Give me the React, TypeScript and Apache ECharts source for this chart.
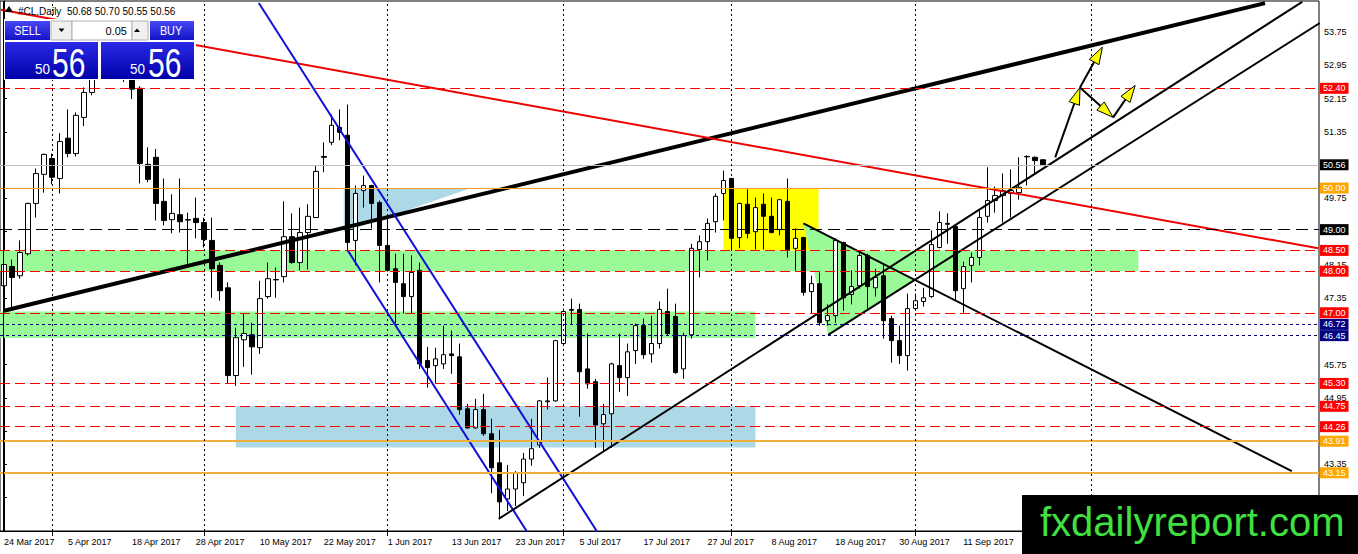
import React, { useEffect, useRef } from "react";
import * as echarts from "echarts";

const FONT = "Liberation Sans";
const MONTHS = ["Jan", "Feb", "Mar", "Apr", "May", "Jun", "Jul", "Aug", "Sep", "Oct", "Nov", "Dec"];
const HOLIDAYS = ["2017-04-14"];
const FIRST_BAR = [2017, 2, 24];
const LAST_BAR = [2017, 8, 25];
const TOTAL_SLOTS = 165;
const LABEL_STEP = 8;
const LAST_LABELLED = 120;
// price-axis tick labels that sit under a price tag in the reference
const coveredTicks = [50.55, 48.95, 46.55, 44.15];

function buildCategories(): { labels: string[]; monthStarts: number[] } {
  const labels: string[] = [];
  const monthStarts: number[] = [];
  const d = new Date(Date.UTC(FIRST_BAR[0], FIRST_BAR[1], FIRST_BAR[2]));
  const last = Date.UTC(LAST_BAR[0], LAST_BAR[1], LAST_BAR[2]);
  let prevMonth = d.getUTCMonth();
  while (labels.length < TOTAL_SLOTS) {
    const dow = d.getUTCDay();
    const iso = d.toISOString().slice(0, 10);
    const future = d.getTime() > last;
    if (future || (dow !== 0 && dow !== 6 && !HOLIDAYS.includes(iso))) {
      if (d.getUTCMonth() !== prevMonth) {
        monthStarts.push(labels.length);
        prevMonth = d.getUTCMonth();
      }
      labels.push(`${d.getUTCDate()} ${MONTHS[d.getUTCMonth()]} ${d.getUTCFullYear()}`);
    }
    d.setUTCDate(d.getUTCDate() + 1);
  }
  return { labels, monthStarts };
}

// [open, close, low, high]
const candles: number[][] = [
  [47.65, 48.16, 47.53, 48.26], [48.11, 47.85, 47.10, 48.28], [47.89, 48.45, 47.82, 48.74], [48.42, 49.63, 48.38, 49.65],
  [49.63, 50.35, 49.29, 50.47], [50.33, 50.81, 49.89, 50.83], [50.71, 50.26, 50.09, 50.83], [50.23, 51.12, 49.87, 51.32],
  [51.20, 50.83, 50.74, 51.89], [50.83, 51.75, 50.76, 51.82], [51.70, 52.30, 51.49, 52.42], [52.30, 52.79, 52.23, 53.08],
  [53.58, 53.70, 53.55, 53.76], [53.40, 53.15, 52.95, 53.76], [53.15, 53.20, 52.90, 53.45], [53.08, 52.71, 52.55, 53.30],
  [52.75, 52.38, 52.14, 52.95], [52.40, 50.59, 50.11, 52.45], [50.57, 50.21, 50.14, 50.98], [50.74, 49.63, 49.22, 50.94],
  [49.68, 49.22, 49.10, 50.23], [49.24, 49.39, 48.91, 49.85], [49.36, 49.19, 48.93, 50.23], [49.24, 49.23, 48.18, 49.41],
  [49.27, 49.17, 48.79, 49.77], [49.17, 48.76, 48.57, 49.29], [48.74, 48.06, 47.36, 49.29], [48.14, 47.53, 47.29, 48.21],
  [47.60, 45.49, 45.29, 47.73], [45.49, 46.40, 45.24, 46.64], [46.35, 46.50, 45.70, 46.98], [46.47, 46.18, 45.51, 46.76],
  [46.16, 47.34, 46.01, 47.77], [47.39, 47.82, 47.34, 48.21], [47.79, 47.80, 47.36, 48.09], [47.87, 48.83, 47.73, 49.68],
  [48.83, 48.21, 48.18, 49.39], [48.21, 48.93, 48.02, 49.53], [48.93, 49.32, 48.04, 49.61], [49.29, 50.40, 49.29, 50.55],
  [50.76, 50.74, 50.38, 51.10], [51.10, 51.51, 51.03, 51.77], [51.46, 51.34, 51.15, 51.89], [51.27, 48.69, 48.50, 52.01],
  [48.74, 49.87, 48.14, 50.06], [49.94, 50.06, 49.53, 50.30], [50.06, 49.63, 49.03, 50.08], [49.65, 48.62, 47.73, 49.70],
  [48.62, 48.02, 47.99, 49.27], [48.06, 47.73, 46.74, 48.42], [47.70, 47.39, 46.98, 48.42], [47.39, 47.97, 46.98, 48.38],
  [48.02, 45.77, 45.65, 48.21], [45.85, 45.68, 45.20, 46.18], [45.73, 45.89, 45.29, 46.16], [45.77, 45.99, 45.65, 46.69],
  [46.01, 45.97, 45.53, 46.57], [45.94, 44.67, 44.55, 46.26], [44.69, 44.23, 44.21, 44.81], [44.23, 44.67, 44.21, 44.93],
  [44.67, 44.09, 44.04, 45.05], [44.09, 43.27, 42.66, 44.45], [43.39, 42.45, 42.04, 44.18], [42.52, 42.76, 42.23, 43.34],
  [42.76, 43.15, 42.35, 43.19], [42.91, 43.48, 42.59, 43.63], [43.48, 43.73, 43.32, 44.45], [43.82, 44.88, 43.75, 44.90],
  [44.86, 44.88, 44.67, 45.44], [44.88, 46.33, 44.86, 46.35], [46.26, 47.03, 46.21, 47.10], [47.08, 47.06, 46.71, 47.34],
  [47.08, 45.58, 44.50, 47.22], [45.65, 45.29, 45.17, 46.50], [45.34, 44.30, 43.75, 45.41], [44.33, 44.55, 43.68, 44.81],
  [44.57, 45.77, 43.75, 45.80], [45.73, 45.44, 45.10, 46.50], [45.44, 46.06, 45.00, 46.26], [46.09, 46.69, 45.77, 46.74],
  [46.69, 45.99, 45.89, 46.86], [46.01, 46.26, 45.80, 46.93], [46.26, 47.08, 46.14, 47.27], [47.03, 46.50, 46.45, 47.58],
  [46.91, 45.56, 45.53, 47.22], [45.65, 46.45, 45.41, 46.52], [46.47, 48.55, 46.38, 48.66], [48.52, 48.71, 47.85, 48.86],
  [48.71, 49.15, 48.26, 49.27], [49.19, 49.80, 48.93, 49.87], [49.87, 50.18, 49.22, 50.42], [50.23, 48.79, 48.50, 50.25],
  [48.81, 49.63, 48.55, 49.65], [49.61, 48.91, 48.79, 49.97], [48.95, 49.53, 48.52, 49.77], [49.61, 49.32, 48.52, 49.87],
  [49.32, 48.93, 48.91, 49.77], [49.00, 49.72, 48.86, 49.74], [49.68, 48.52, 48.33, 50.23], [48.55, 48.79, 48.02, 49.03],
  [48.81, 47.49, 47.41, 48.83], [47.51, 47.70, 46.98, 47.89], [47.70, 46.76, 46.69, 47.97], [46.81, 46.93, 46.69, 47.20],
  [46.93, 48.74, 46.76, 48.79], [48.69, 47.36, 47.05, 48.71], [47.44, 47.63, 47.20, 48.02], [47.65, 48.38, 47.58, 48.45],
  [48.38, 47.63, 47.10, 48.42], [47.60, 47.85, 47.39, 48.06], [47.89, 46.81, 46.38, 48.18], [46.86, 46.33, 45.80, 46.93],
  [46.33, 45.97, 45.77, 46.69], [45.97, 47.10, 45.61, 47.46], [47.10, 47.29, 47.05, 47.46], [47.27, 47.36, 47.15, 47.60],
  [47.39, 48.64, 47.36, 48.98], [48.57, 49.17, 48.55, 49.44], [49.15, 49.13, 48.66, 49.39], [49.08, 47.53, 47.29, 49.10],
  [47.58, 48.11, 47.00, 48.23], [48.14, 48.33, 47.73, 48.45], [48.33, 49.29, 48.14, 49.46], [49.32, 49.70, 49.17, 50.50],
  [49.70, 49.82, 49.41, 50.04], [49.82, 49.94, 49.17, 50.35], [49.87, 49.94, 49.29, 50.45], [49.89, 50.02, 49.72, 50.74],
  [50.75, 50.76, 50.06, 50.79], [50.74, 50.66, 50.35, 50.76], [50.68, 50.56, 50.55, 50.70],
];

// horizontal levels
const redLevels = [52.4, 48.5, 48.0, 47.0, 45.3, 44.75, 44.26];
const blackLevels = [49.0];
const currentPrice = [50.56];
const orangeThinLevels = [50.0];
const orangeThickLevels = [43.91, 43.15];
const navyLevels = [46.72, 46.45];

// drawing objects in [bar index, price]
const thickTrend = [[0, 47.05], [157.75, 54.45]];
const redTrend = [[-0.375, 54.29], [164.4, 48.55]];
const blueUpper = [[31.875, 54.45], [74.375, 41.68]];
const blueLower = [[43, 48.5], [65.6, 41.68]];
const channelUpper = [[61.875, 42.04], [162.4, 54.48]];
const channelLower = [[103.1, 46.47], [164.6, 53.97]];
const descending = [[100, 49.15], [161.1, 43.19]];

// zones: [x1, y1, x2, y2]
const greenZones = [[-0.5, 48.0, 141.9, 48.5], [-0.5, 46.39, 94, 47.03]];
const blueZones = [[29, 43.76, 94, 44.76]];
const yellowZones = [[90, 48.5, 101.9, 50.0]];
// triangles: [x1, y1, x2, y2, x3, y3]
const greenTriangles = [[100, 49.15, 114, 47.8, 103.1, 46.47]];
const blueTriangles = [[42.5, 50.0, 58.4, 50.0, 42.5, 48.93]];
// arrows: [fromX, fromY, toX, toY]
const arrows = [
  [131.5, 50.74, 134.6, 52.42],
  [134.6, 52.42, 137.4, 53.39],
  [134.6, 52.42, 138.75, 51.7],
  [138.75, 51.7, 141.5, 52.47],
];

const headerText = "#CL,Daily  50.68 50.70 50.55 50.56";

function rectRender(fill: string) {
  return (params: any, api: any) => {
    const p1 = api.coord([api.value(0), api.value(3)]);
    const p2 = api.coord([api.value(2), api.value(1)]);
    const cs = params.coordSys;
    const shape = echarts.graphic.clipRectByRect(
      { x: p1[0], y: p1[1], width: p2[0] - p1[0], height: p2[1] - p1[1] },
      { x: cs.x, y: cs.y, width: cs.width, height: cs.height }
    );
    return shape ? { type: "rect", shape, style: { fill } } : null;
  };
}

function triRender(fill: string) {
  return (_params: any, api: any) => {
    const pts = [0, 2, 4].map((k) => api.coord([api.value(k), api.value(k + 1)]));
    return { type: "polygon", shape: { points: pts }, style: { fill } };
  };
}

function arrowRender(_params: any, api: any) {
  const a = api.coord([api.value(0), api.value(1)]);
  const b = api.coord([api.value(2), api.value(3)]);
  const dx = b[0] - a[0];
  const dy = b[1] - a[1];
  const len = Math.hypot(dx, dy) || 1;
  const ux = dx / len;
  const uy = dy / len;
  const headLen = 17;
  const half = 5.5;
  const base = [b[0] - ux * headLen, b[1] - uy * headLen];
  const left = [base[0] - uy * half, base[1] + ux * half];
  const right = [base[0] + uy * half, base[1] - ux * half];
  return {
    type: "group",
    children: [
      { type: "line", shape: { x1: a[0], y1: a[1], x2: base[0], y2: base[1] }, style: { stroke: "#000", lineWidth: 2 } },
      { type: "polygon", shape: { points: [b, left, right] }, style: { fill: "#ffff00", stroke: "#000", lineWidth: 1 } },
    ],
  };
}

function trendSeries(name: string, pts: number[][], color: string, width: number) {
  return {
    name,
    type: "line",
    xAxisIndex: 1,
    yAxisIndex: 0,
    data: pts,
    showSymbol: false,
    symbol: "none",
    silent: true,
    clip: true,
    z: 4,
    lineStyle: { color, width },
  };
}

function levelItem(v: number, color: string, type: any, width: number, tagBg: string, tagColor: string) {
  return {
    yAxis: v,
    lineStyle: { color, type, width },
    label: {
      show: true,
      position: "end",
      formatter: v.toFixed(2),
      color: tagColor,
      backgroundColor: tagBg,
      padding: [1, 3, 0, 3],
      fontSize: 9,
      fontFamily: FONT,
      distance: 1,
      lineHeight: 10,
    },
  };
}

function grad(a: string, b: string) {
  return new echarts.graphic.LinearGradient(0, 0, 0, 1, [
    { offset: 0, color: a },
    { offset: 1, color: b },
  ]);
}

export default function App() {
  const ref = useRef<HTMLDivElement>(null);

  useEffect(() => {
    if (!ref.current) return;
    const chart = echarts.init(ref.current, null, { renderer: "svg" });
    const { labels, monthStarts } = buildCategories();

    const levelData: any[] = [
      ...redLevels.map((v) => levelItem(v, "#ff0000", [10, 5], 1, "#ff0000", "#ffffff")),
      ...blackLevels.map((v) => levelItem(v, "#000000", [12, 6], 1, "#000000", "#ffffff")),
      ...currentPrice.map((v) => levelItem(v, "#c0c0c0", "solid", 1, "#000000", "#ffffff")),
      ...orangeThinLevels.map((v) => levelItem(v, "#f0a020", "solid", 1, "#ffa500", "#ffffff")),
      ...orangeThickLevels.map((v) => levelItem(v, "#f0b040", "solid", 2, "#ffa500", "#ffffff")),
      ...navyLevels.map((v) => levelItem(v, "#000080", [3, 3], 1, "#000080", "#ffffff")),
      ...monthStarts.map((i) => ({
        xAxis: i,
        lineStyle: { color: "#000", type: [2, 3], width: 1 },
        label: { show: false },
      })),
    ];

    const option: any = {
      animation: false,
      backgroundColor: "#ffffff",
      textStyle: { fontFamily: FONT },
      grid: { left: -1, top: 1, width: 1320, height: 530, show: true, borderColor: "#000", borderWidth: 1 },
      xAxis: [
        {
          type: "category",
          data: labels,
          boundaryGap: true,
          axisLine: { show: true, lineStyle: { color: "#000", width: 1 } },
          axisTick: {
            show: true,
            alignWithLabel: true,
            length: 5,
            interval: (index: number) => monthStarts.includes(index),
            lineStyle: { color: "#000" },
          },
          axisLabel: {
            interval: (index: number) => index % LABEL_STEP === 0 && index <= LAST_LABELLED,
            align: "left",
            margin: 6,
            fontSize: 9,
            color: "#000",
            fontFamily: FONT,
          },
          splitLine: { show: false },
        },
        { type: "value", min: -0.5, max: TOTAL_SLOTS - 0.5, show: false },
      ],
      yAxis: {
        type: "value",
        position: "right",
        min: 41.75,
        max: 54.5,
        interval: 0.8,
        splitLine: { show: false },
        axisLine: { show: true, lineStyle: { color: "#000" } },
        axisTick: { show: true, length: 3, lineStyle: { color: "#000" } },
        axisLabel: {
          color: "#000",
          fontSize: 9,
          margin: 5,
          fontFamily: FONT,
          showMaxLabel: false,
          showMinLabel: false,
          formatter: (v: number) => (coveredTicks.some((c) => Math.abs(c - v) < 0.001) ? "" : v.toFixed(2)),
        },
      },
      series: [
        { type: "custom", name: "green zones", xAxisIndex: 1, data: greenZones, renderItem: rectRender("#98fb98"), encode: { x: [0, 2], y: [1, 3] }, z: 1, silent: true },
        { type: "custom", name: "blue zones", xAxisIndex: 1, data: blueZones, renderItem: rectRender("#add8e6"), encode: { x: [0, 2], y: [1, 3] }, z: 1, silent: true },
        { type: "custom", name: "yellow zones", xAxisIndex: 1, data: yellowZones, renderItem: rectRender("#ffff00"), encode: { x: [0, 2], y: [1, 3] }, z: 1, silent: true },
        { type: "custom", name: "green triangles", xAxisIndex: 1, data: greenTriangles, renderItem: triRender("#98fb98"), encode: { x: [0, 2, 4], y: [1, 3, 5] }, z: 1, silent: true },
        { type: "custom", name: "blue triangles", xAxisIndex: 1, data: blueTriangles, renderItem: triRender("#add8e6"), encode: { x: [0, 2, 4], y: [1, 3, 5] }, z: 1, silent: true },
        {
          type: "line",
          name: "levels",
          xAxisIndex: 1,
          yAxisIndex: 0,
          data: [],
          z: 2,
          silent: true,
          markLine: { symbol: "none", silent: true, animation: false, data: levelData },
        },
        {
          type: "candlestick",
          name: "#CL",
          xAxisIndex: 0,
          yAxisIndex: 0,
          data: candles,
          barWidth: 5,
          z: 3,
          silent: true,
          itemStyle: { color: "#ffffff", color0: "#000000", borderColor: "#000000", borderColor0: "#000000", borderWidth: 1 },
        },
        trendSeries("thick trend", thickTrend, "#000000", 4),
        trendSeries("red trend", redTrend, "#ee0000", 2),
        trendSeries("blue upper", blueUpper, "#1010d8", 2),
        trendSeries("blue lower", blueLower, "#1010d8", 2),
        trendSeries("channel upper", channelUpper, "#000000", 2),
        trendSeries("channel lower", channelLower, "#000000", 2),
        trendSeries("descending", descending, "#000000", 2),
        { type: "custom", name: "arrows", xAxisIndex: 1, data: arrows, renderItem: arrowRender, encode: { x: [0, 2], y: [1, 3] }, z: 5, silent: true },
      ],
      graphic: [
        { type: "line", shape: { x1: 3.5, y1: 1, x2: 3.5, y2: 531 }, style: { stroke: "#000", lineWidth: 1 }, z: 50 },
        { type: "polygon", shape: { points: [[5, 12], [9, 6], [13, 12]] }, style: { fill: "#000" }, z: 100 },
        { type: "text", x: 18, y: 11, style: { text: headerText, fill: "#000", fontSize: 10, fontFamily: FONT, textVerticalAlign: "middle", textAlign: "left" }, z: 100 },
        { type: "rect", shape: { x: 4, y: 19, width: 192, height: 61 }, style: { fill: "#ffffff" }, z: 100 },
        { type: "rect", shape: { x: 5, y: 21, width: 45, height: 19 }, style: { fill: grad("#4646f2", "#1414c8") }, z: 101 },
        { type: "text", x: 27.5, y: 30.5, scaleX: 0.9, style: { text: "SELL", fill: "#fff", fontSize: 12, fontFamily: FONT, textAlign: "center", textVerticalAlign: "middle" }, z: 102 },
        { type: "rect", shape: { x: 51, y: 21, width: 21, height: 19 }, style: { fill: "#f0f0f0", stroke: "#b0b0b0", lineWidth: 1 }, z: 101 },
        { type: "polygon", shape: { points: [[58.5, 28.5], [64.5, 28.5], [61.5, 32]] }, style: { fill: "#000" }, z: 102 },
        { type: "rect", shape: { x: 72, y: 21, width: 60, height: 19 }, style: { fill: "#ffffff", stroke: "#b0b0b0", lineWidth: 1 }, z: 101 },
        { type: "text", x: 127, y: 30.5, style: { text: "0.05", fill: "#000", fontSize: 11, fontFamily: FONT, textAlign: "right", textVerticalAlign: "middle" }, z: 102 },
        { type: "rect", shape: { x: 132, y: 21, width: 16, height: 19 }, style: { fill: "#f0f0f0", stroke: "#b0b0b0", lineWidth: 1 }, z: 101 },
        { type: "polygon", shape: { points: [[134, 32], [140, 32], [137, 28.5]] }, style: { fill: "#000" }, z: 102 },
        { type: "rect", shape: { x: 150, y: 21, width: 44, height: 19 }, style: { fill: grad("#4646f2", "#1414c8") }, z: 101 },
        { type: "text", x: 171, y: 30.5, scaleX: 0.9, style: { text: "BUY", fill: "#fff", fontSize: 12, fontFamily: FONT, textAlign: "center", textVerticalAlign: "middle" }, z: 102 },
        { type: "rect", shape: { x: 5, y: 42, width: 93, height: 37 }, style: { fill: grad("#2a2ae8", "#0000a8") }, z: 101 },
        { type: "rect", shape: { x: 101, y: 42, width: 93, height: 37 }, style: { fill: grad("#2a2ae8", "#0000a8") }, z: 101 },
        { type: "text", x: 35, y: 69, scaleX: 0.9, style: { text: "50", fill: "#fff", fontSize: 15, fontFamily: FONT, textAlign: "left", textVerticalAlign: "middle" }, z: 102 },
        { type: "text", x: 52, y: 62.5, scaleX: 0.75, style: { text: "56", fill: "#fff", fontSize: 40, fontFamily: FONT, textAlign: "left", textVerticalAlign: "middle" }, z: 102 },
        { type: "text", x: 130, y: 69, scaleX: 0.9, style: { text: "50", fill: "#fff", fontSize: 15, fontFamily: FONT, textAlign: "left", textVerticalAlign: "middle" }, z: 102 },
        { type: "text", x: 148, y: 62.5, scaleX: 0.75, style: { text: "56", fill: "#fff", fontSize: 40, fontFamily: FONT, textAlign: "left", textVerticalAlign: "middle" }, z: 102 },
        { type: "rect", shape: { x: 1022, y: 495, width: 336, height: 59 }, style: { fill: "#000" }, z: 110 },
        { type: "text", x: 1040, y: 522, style: { text: "fxdailyreport.com", fill: "#3fe03f", fontSize: 40, fontFamily: FONT, textAlign: "left", textVerticalAlign: "middle" }, z: 111 },
      ],
    };

    chart.setOption(option);
    return () => chart.dispose();
  }, []);

  return (
    <div
      ref={ref}
      style={{ position: "fixed", left: 0, top: 0, width: 1358, height: 554, background: "#ffffff" }}
    />
  );
}
